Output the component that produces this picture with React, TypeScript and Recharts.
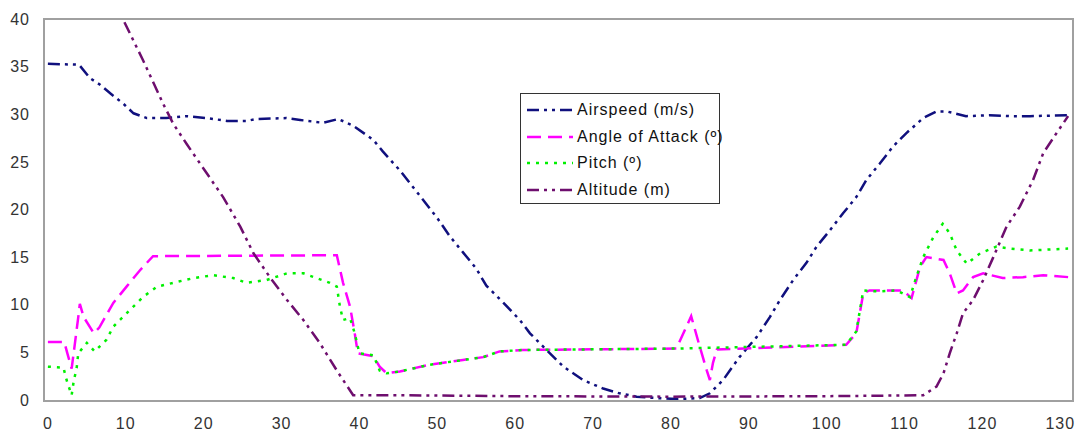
import { LineChart, Line, XAxis, YAxis } from 'recharts';

// [time, value] pairs
const airspeed = [
    [0, 35.3], [4, 35.2], [5.4, 33.8], [6.7, 33.1], [8, 32.2], [9.7, 31.1], [11, 30.1], [12.7, 29.6],
    [15.2, 29.6], [17.8, 29.8], [20.4, 29.6], [23, 29.3], [25.5, 29.3], [26.8, 29.5], [30.6, 29.6],
    [32.4, 29.4], [35.3, 29.1], [37.3, 29.5], [39.2, 28.8], [41.8, 27.3], [43, 26.1], [45.2, 24.1],
    [47.8, 21.4], [50, 19.1], [51.6, 17.2], [53.3, 15.5], [55, 13.8], [56.3, 12], [58.5, 10.2],
    [60.6, 8.4], [61.9, 7], [63.6, 5.6], [66.2, 3.5], [68.7, 2.1], [71.3, 1.2], [73.4, 0.7],
    [75.6, 0.35], [78.2, 0.2], [80.7, 0.1], [83.7, 0.2], [85, 0.7], [86.7, 2.1], [88.8, 4.5],
    [91, 6.6], [92.7, 8.7], [94, 10.5], [95.7, 12.6], [97.4, 14.4], [98.7, 16.1], [100.4, 17.8],
    [102.1, 19.6], [103.8, 21.3], [105.1, 23.1], [106.8, 24.8], [108.5, 26.6], [110.2, 28],
    [112.4, 29.6], [114.1, 30.3], [115.4, 30.3], [117.9, 29.8], [120.9, 29.9], [123.5, 29.8],
    [126.1, 29.8], [131, 29.9],
];

const angleOfAttack = [
    [0, 6.1], [2.1, 6.1], [2.5, 4.9], [3.05, 3.3], [3.4, 5.5], [3.9, 8.7], [4.1, 10.1], [4.6, 8.7],
    [5.9, 7], [6.6, 7.6], [8.4, 10.2], [10.1, 11.9], [11.8, 13.6], [13.5, 15.1], [37.1, 15.2],
    [37.9, 12.3], [38.8, 9.8], [39.4, 7], [39.8, 4.9], [41.8, 4.6], [42.6, 3.5], [43.5, 2.8],
    [45.2, 3], [49, 3.7], [53.3, 4.2], [55.9, 4.5], [58, 5.1], [61, 5.25], [80.7, 5.4], [81.6, 7],
    [82.6, 8.8], [83.7, 5.6], [84.6, 3.1], [85, 2.1], [85.4, 3.9], [85.9, 5.3], [102.5, 5.8],
    [103.8, 7], [104.7, 11.2], [105.5, 11.5], [109.8, 11.5], [110.9, 10.7], [112, 14], [112.8, 15],
    [115, 14.7], [115.8, 13.3], [116.7, 11.2], [117.5, 11.5], [118.8, 12.9], [120.1, 13.3],
    [122.6, 12.8], [125.2, 12.9], [127.8, 13.1], [131, 12.9],
];

const pitch = [
    [0, 3.5], [2, 3.4], [2.4, 2.1], [3.05, 0.5], [3.3, 1.9], [3.7, 3.4], [3.9, 4.9], [5, 6], [6, 5.1],
    [7.5, 6.3], [8.4, 7.7], [10.1, 9.1], [12.2, 10.8], [14, 11.9], [16.1, 12.3], [18.7, 12.8],
    [21.2, 13.1], [23.8, 12.8], [25.5, 12.3], [28.1, 12.6], [30.7, 13.3], [32.8, 13.3], [34.5, 12.8],
    [36.2, 12.3], [37.1, 11.9], [37.5, 9.8], [37.9, 8.4], [38.8, 8.6], [39.4, 7], [40, 4.9],
    [41.8, 4.7], [42.6, 3.1], [43.5, 2.8], [45.2, 3], [49, 3.7], [53.3, 4.2], [55.9, 4.5], [58, 5.1],
    [61, 5.25], [80.7, 5.4], [102.5, 5.8], [103.8, 7.2], [104.7, 11.5], [106.5, 11.4], [109, 11.5],
    [110.7, 10.8], [111.5, 12.9], [112.4, 15], [113.7, 17.1], [114.9, 18.5], [115.8, 17.5],
    [116.7, 15.7], [118, 14.3], [119.7, 15.4], [121.8, 16.1], [123.5, 15.9], [126.1, 15.7], [131, 15.9],
];

const altitude = [
    [0, 55], [9.5, 40.2], [12.2, 35.7], [14.8, 31.1], [16.1, 29], [17.8, 26.9], [20.4, 23.8],
    [22.5, 21.3], [24.7, 18.2], [26.4, 15.4], [28.5, 12.9], [30.7, 10.5], [32.8, 8.4], [34.9, 6],
    [37.1, 3.1], [39.2, 0.5], [45, 0.5], [60, 0.4], [80, 0.35], [100, 0.4], [112.4, 0.5],
    [114.1, 1.4], [115, 2.8], [115.8, 4.9], [116.7, 7], [117.5, 9.1], [118.8, 10.5], [120.1, 12.6],
    [121.4, 15], [123.1, 18.2], [124.8, 20.3], [126.5, 23.1], [127.8, 25.9], [129.5, 28], [131, 29.8],
];

const X_TICKS = [0, 10, 20, 30, 40, 50, 60, 70, 80, 90, 100, 110, 120, 130];
const Y_TICKS = [0, 5, 10, 15, 20, 25, 30, 35, 40];

const SERIES = [
    { name: 'Airspeed (m/s)', points: airspeed, color: '#10107e', dash: '12 5 3 5 3 5' },
    { name: 'Angle of Attack (º)', points: angleOfAttack, color: '#ff00ff', dash: '14 7' },
    { name: 'Pitch (º)', points: pitch, color: '#00f000', dash: '3 6' },
    { name: 'Altitude (m)', points: altitude, color: '#6e0e6e', dash: '12 5 3 5 3 5' },
];

const toRows = (pts: number[][]) => pts.map(([t, v]) => ({ t, v }));

const FONT = 'Arial, "Liberation Sans", sans-serif';
const tickStyle = { fill: '#333', fontSize: 16, fontFamily: FONT, letterSpacing: 1 };

export default function App() {
    return (
        <div style={{ position: 'absolute', left: 0, top: 0, width: 1076, height: 439, background: '#fff' }}>
            <LineChart width={1076} height={439} margin={{ top: 19, right: 4, left: 0, bottom: 0 }}>
                <XAxis
                    type="number"
                    dataKey="t"
                    domain={[-0.5, 131.5]}
                    ticks={X_TICKS}
                    interval={0}
                    height={39}
                    tickLine={false}
                    tickSize={0}
                    tickMargin={18}
                    axisLine={false}
                    tick={tickStyle}
                />
                <YAxis
                    type="number"
                    domain={[0, 40]}
                    ticks={Y_TICKS}
                    allowDataOverflow
                    width={44}
                    tickLine={false}
                    tickSize={0}
                    tickMargin={14}
                    axisLine={false}
                    tick={tickStyle}
                />
                {SERIES.map(s => (
                    <Line
                        key={s.name}
                        name={s.name}
                        data={toRows(s.points)}
                        dataKey="v"
                        type="linear"
                        stroke={s.color}
                        strokeWidth={2.5}
                        strokeDasharray={s.dash}
                        dot={false}
                        activeDot={false}
                        isAnimationActive={false}
                    />
                ))}
            </LineChart>

            {/* plot frame */}
            <div style={{ position: 'absolute', left: 43, top: 18, width: 1027, height: 380, border: '2px solid #a0a0a0' }} />

            {/* legend box */}
            <div style={{
                position: 'absolute', left: 520, top: 93, width: 198, height: 109,
                border: '1px solid #333', background: '#fff', fontFamily: FONT,
                fontSize: 16, letterSpacing: 1, color: '#111',
            }}>
                {SERIES.map((s, i) => (
                    <div key={s.name} style={{ position: 'absolute', left: 6, top: 4 + i * 26.7, height: 24, display: 'flex', alignItems: 'center' }}>
                        <svg width={46} height={10}>
                            <line x1={0} y1={5} x2={46} y2={5} stroke={s.color} strokeWidth={2.5} strokeDasharray={s.dash} />
                        </svg>
                        <span style={{ marginLeft: 4, whiteSpace: 'nowrap' }}>{s.name}</span>
                    </div>
                ))}
            </div>
        </div>
    );
}
